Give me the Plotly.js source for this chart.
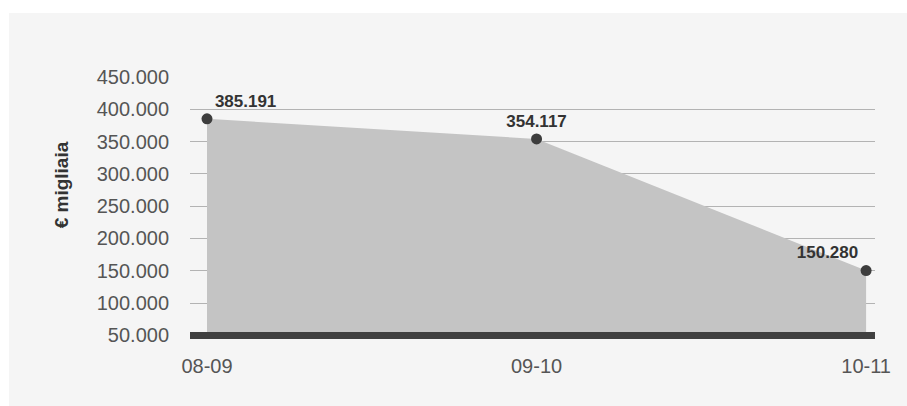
<!DOCTYPE html>
<html>
<head>
<meta charset="utf-8">
<script src="https://cdn.plot.ly/plotly-3.0.1.min.js"></script>
<style>
  html, body { margin: 0; padding: 0; background: #ffffff; width: 907px; height: 406px; overflow: hidden; }
  #chart { position: absolute; left: 9px; top: 13px; width: 898px; height: 393px; }
</style>
</head>
<body>
<div id="chart"></div>
<script>
const categories = ['08-09', '09-10', '10-11'];
const values = [385191, 354117, 150280];
const labelPositions = ['top right', 'top center', 'top left'];
const yTicks = [50000, 100000, 150000, 200000, 250000, 300000, 350000, 400000, 450000];

const xIdx = categories.map((c, i) => i);

const area = {
  type: 'scatter',
  x: xIdx,
  y: values,
  mode: 'lines',
  fill: 'tozeroy',
  fillcolor: '#c4c4c4',
  line: { width: 0, color: '#c4c4c4' },
  hoverinfo: 'skip',
  showlegend: false
};

const points = {
  type: 'scatter',
  x: xIdx,
  y: values,
  mode: 'markers+text',
  marker: { size: 11, color: '#3d3d3d' },
  text: values,
  texttemplate: '%{y:,d}',
  textposition: labelPositions,
  textfont: { family: 'Liberation Sans, Arial, sans-serif', size: 17, color: '#333333', weight: 'bold' },
  cliponaxis: false,
  showlegend: false
};

const layout = {
  width: 898,
  height: 393,
  margin: { l: 181, r: 32, t: 64, b: 67 },
  paper_bgcolor: '#f5f5f5',
  plot_bgcolor: '#f5f5f5',
  separators: ',.',
  font: { family: 'Liberation Sans, Arial, sans-serif', size: 20, color: '#555555' },
  showlegend: false,
  xaxis: {
    type: 'linear',
    range: [-0.0516, 2.027],
    tickvals: xIdx,
    ticktext: categories,
    showgrid: false,
    zeroline: false,
    showline: false,
    ticks: '',
    ticklabelstandoff: 13,
    tickfont: { size: 20, color: '#555555' }
  },
  yaxis: {
    range: [44400, 450000],
    tickvals: yTicks,
    tickformat: ',d',
    showgrid: true,
    gridcolor: '#b3b3b3',
    gridwidth: 1,
    zeroline: false,
    showline: false,
    ticks: '',
    ticklabelstandoff: 20,
    tickfont: { size: 20, color: '#555555' }
  },
  shapes: [{
    type: 'line',
    xref: 'paper', yref: 'y',
    x0: 0, x1: 1, y0: 50000, y1: 50000,
    line: { color: '#404040', width: 7 },
    layer: 'above'
  }],
  annotations: [{
    text: '€ migliaia',
    xref: 'paper', yref: 'paper',
    x: -0.187, y: 0.59,
    xanchor: 'center', yanchor: 'middle',
    textangle: -90,
    showarrow: false,
    font: { family: 'Liberation Sans, Arial, sans-serif', size: 19, color: '#333333', weight: 'bold' }
  }]
};

Plotly.newPlot('chart', [area, points], layout, { displayModeBar: false, staticPlot: true });
</script>
</body>
</html>
